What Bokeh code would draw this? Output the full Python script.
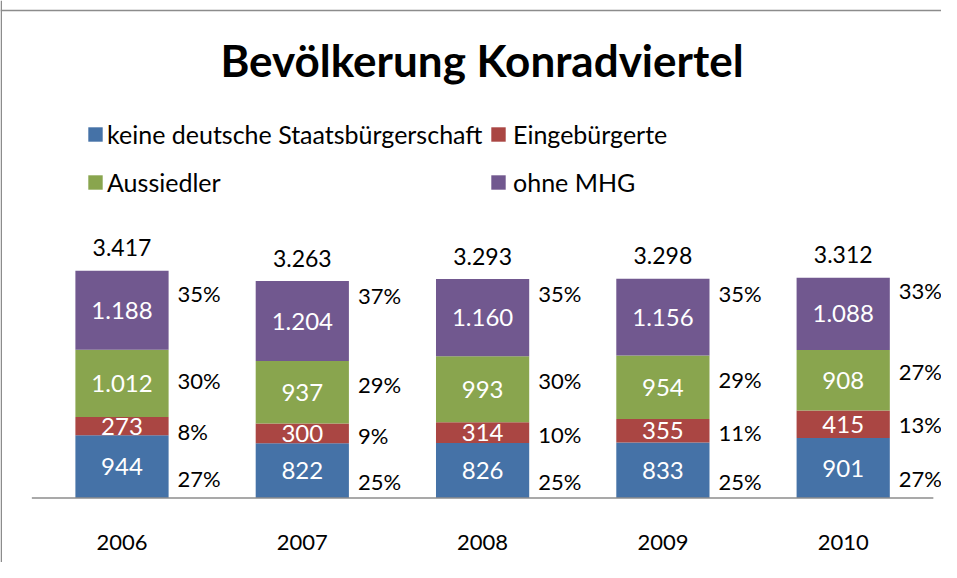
import numpy as np
from bokeh.plotting import figure
from bokeh.models import ColumnDataSource, Range1d, LabelSet, Label, Legend, LegendItem, Span
from bokeh.core.properties import value
from bokeh.embed import file_html
from bokeh.resources import INLINE

# ---- data ----
years = [2006, 2007, 2008, 2009, 2010]
keine_deutsche = [944, 822, 826, 833, 901]
eingebuergerte = [273, 300, 314, 355, 415]
aussiedler = [1012, 937, 993, 954, 908]
ohne_mhg = [1188, 1204, 1160, 1156, 1088]
totals = [3417, 3263, 3293, 3298, 3312]
pct_keine = [27, 25, 25, 25, 27]
pct_eingeb = [8, 9, 10, 11, 13]
pct_aussiedler = [30, 29, 30, 29, 27]
pct_ohne = [35, 37, 35, 35, 33]
series_names = ["keine deutsche Staatsbürgerschaft", "Eingebürgerte", "Aussiedler", "ohne MHG"]
title_text = "Bevölkerung Konradviertel"

colors = ["#4572A7", "#AA4643", "#89A54E", "#71588F"]
FONT = "Lato"

W, H = 941, 562
K = 0.0665          # px per person
BASE = 497.5        # baseline (px from top)
KP = 2.69           # px per percent for percent label row
PBASE = 514.5
CAT = 180.3
X0 = 121.5
BAR_W = 0.517

x_range = Range1d(years[0] - X0 / CAT, years[0] + (W - X0) / CAT)
y_range = Range1d(-(H - BASE) / K, BASE / K)

p = figure(width=W, height=H, output_backend="svg", toolbar_location=None,
           x_range=x_range, y_range=y_range, min_border=0,
           x_axis_location=None, y_axis_location=None, title=None)
p.extra_y_ranges = {"pct": Range1d(-(H - PBASE) / KP, PBASE / KP)}
p.outline_line_color = None
p.grid.visible = False
p.background_fill_color = "white"
p.border_fill_color = "white"

series = [keine_deutsche, eingebuergerte, aussiedler, ohne_mhg]
pcts = [pct_keine, pct_eingeb, pct_aussiedler, pct_ohne]

vals = np.array(series, dtype=float)
tops = np.cumsum(vals, axis=0)
bottoms = tops - vals
pv = np.array(pcts, dtype=float)
ptops = np.cumsum(pv, axis=0)
pmids = ptops - pv / 2

def fmt(v):
    return f"{int(v):,}".replace(",", ".")

renderers = []
for i in range(4):
    src = ColumnDataSource(dict(
        x=years, bottom=bottoms[i], top=tops[i],
        mid=(bottoms[i] + tops[i]) / 2,
        txt=[fmt(v) for v in series[i]],
        xr=[y + BAR_W / 2 for y in years],
        pmid=pmids[i],
        ptxt=[f"{int(v)}%" for v in pcts[i]],
    ))
    r = p.vbar(x="x", width=BAR_W, bottom="bottom", top="top", source=src,
               fill_color=colors[i], line_color=None)
    renderers.append(r)
    p.add_layout(LabelSet(x="x", y="mid", text="txt", source=src,
                          text_align="center", text_baseline="middle",
                          text_color="white", text_font=value(FONT),
                          text_font_size="24px"))
    p.add_layout(LabelSet(x="xr", y="pmid", text="ptxt", source=src,
                          y_range_name="pct", x_offset=9,
                          text_align="left", text_baseline="middle",
                          text_color="black", text_font=value(FONT),
                          text_font_size="22px"))

tsrc = ColumnDataSource(dict(x=years, y=totals, txt=[fmt(v) for v in totals],
                             yr=[str(y) for y in years], zero=[0] * len(years)))
p.add_layout(LabelSet(x="x", y="y", text="txt", source=tsrc, y_offset=23,
                      text_align="center", text_baseline="middle",
                      text_color="black", text_font=value(FONT), text_font_size="23px"))
p.add_layout(LabelSet(x="x", y="zero", text="yr", source=tsrc, y_offset=-44,
                      text_align="center", text_baseline="middle",
                      text_color="black", text_font=value(FONT), text_font_size="22px"))

# baseline
p.line(x=[years[0] - 0.5, years[-1] + 0.5], y=[0, 0], line_color="#8c8c8c", line_width=1.5)

# title
p.add_layout(Label(x=481.5, y=H - 59.5, x_units="screen", y_units="screen",
                   text=title_text, text_align="center", text_baseline="middle",
                   text_font=FONT, text_font_style="bold", text_font_size="44px",
                   text_color="black"))

# legends (2 x 2 grid)
leg_pos = [(86, 413), (489, 413), (86, 365), (489, 365)]
leg_standoff = [3, 6, 3, 6]
for i in range(4):
    leg = Legend(items=[LegendItem(label=series_names[i], renderers=[renderers[i]])],
                 location=leg_pos[i], padding=0, margin=0, border_line_color=None,
                 background_fill_alpha=0, glyph_width=18, glyph_height=18,
                 label_standoff=leg_standoff[i], label_height=30, label_text_font=FONT,
                 label_text_font_size="25px", label_text_color="black")
    p.add_layout(leg)

# chart border (left and top)
p.add_layout(Span(location=0.75, dimension="height", location_units="screen",
                  line_color="#8c8c8c", line_width=1.5))
p.add_layout(Span(location=H - 10, dimension="width", location_units="screen",
                  line_color="#8c8c8c", line_width=1.5))

open("out.html", "w").write(file_html(p, INLINE))
